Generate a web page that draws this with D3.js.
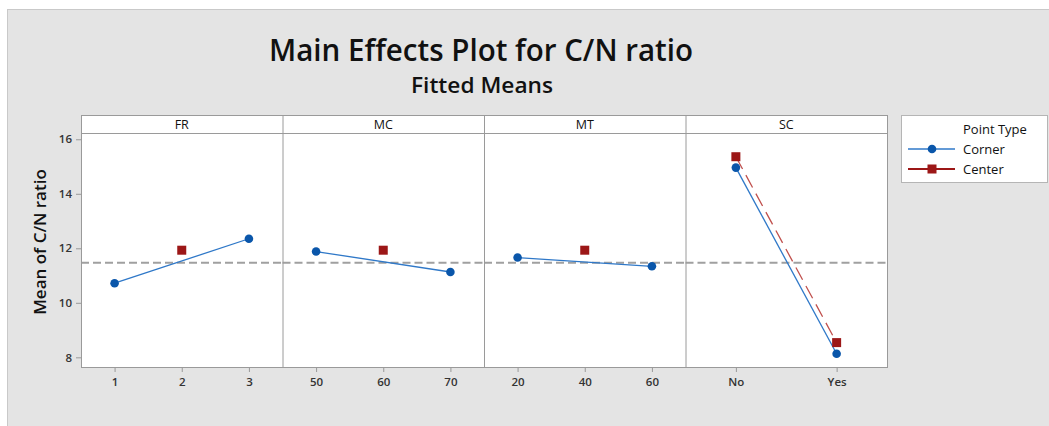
<!DOCTYPE html>
<html>
<head>
<meta charset="utf-8">
<script src="https://cdn.jsdelivr.net/npm/d3@7"></script>
<style>
  body { margin: 0; background: #fff; }
  svg { display: block; font-family: "Open Sans", "Noto Sans", sans-serif; }
</style>
</head>
<body>
<svg id="chart" width="1049" height="426"></svg>
<script>
// factors and their levels
var factors = ["FR", "MC", "MT", "SC"];
var levels = [["1", "2", "3"], ["50", "60", "70"], ["20", "40", "60"], ["No", "Yes"]];

// fitted means, corner points (one per level, null where there is none)
var cornerMeans = [[10.72, null, 12.35], [11.88, null, 11.13], [11.66, null, 11.34], [14.96, 8.13]];
// fitted means, center points
var centerMeans = [[null, 11.93, null], [null, 11.93, null], [null, 11.93, null], [15.36, 8.54]];

var grandMean = 11.47;
var yTicks = [8, 10, 12, 14, 16];

var svg = d3.select("#chart");

// grey background panel
svg.append("rect")
  .attr("x", 7.5).attr("y", 9.5)
  .attr("width", 1049).attr("height", 426)
  .attr("fill", "#e4e4e4")
  .attr("stroke", "#c9c9c9");

// titles
svg.append("text")
  .attr("x", 481).attr("y", 61)
  .attr("text-anchor", "middle")
  .attr("font-size", 30).attr("font-weight", 600)
  .attr("textLength", 424).attr("lengthAdjust", "spacingAndGlyphs")
  .attr("fill", "#111")
  .text("Main Effects Plot for C/N ratio");

svg.append("text")
  .attr("x", 482).attr("y", 93)
  .attr("text-anchor", "middle")
  .attr("font-size", 21).attr("font-weight", 600)
  .attr("textLength", 142).attr("lengthAdjust", "spacingAndGlyphs")
  .attr("fill", "#111")
  .text("Fitted Means");

var pLeft = 81, pTop = 115, stripH = 18, pBottom = 367, panelW = 201.5;
var plotTop = pTop + stripH;

var y = d3.scaleLinear()
  .domain([7.645, 16.23])
  .range([pBottom, plotTop]);

// y axis label
svg.append("text")
  .attr("transform", "translate(46,242) rotate(-90)")
  .attr("text-anchor", "middle")
  .attr("font-size", 17).attr("font-weight", 600)
  .attr("fill", "#111")
  .text("Mean of C/N ratio");

// plot background
svg.append("rect")
  .attr("x", pLeft).attr("y", pTop)
  .attr("width", panelW * factors.length).attr("height", pBottom - pTop)
  .attr("fill", "#fff");

// y axis
var yAxis = svg.append("g")
  .attr("transform", "translate(" + pLeft + ",0)")
  .call(d3.axisLeft(y).tickValues(yTicks).tickSize(5).tickPadding(4));
yAxis.select(".domain").remove();
yAxis.selectAll("line").attr("stroke", "#999");
yAxis.selectAll("text")
  .attr("font-size", 11.5).attr("font-weight", 600)
  .attr("fill", "#333")
  .attr("font-family", "\"Open Sans\", sans-serif");

var lineGen = d3.line()
  .x(function(d) { return d.x; })
  .y(function(d) { return y(d.v); });

factors.forEach(function(f, i) {
  var x0 = pLeft + i * panelW;
  var x = d3.scalePoint()
    .domain(levels[i])
    .range([x0, x0 + panelW])
    .padding(0.5);

  var g = svg.append("g");

  // x axis
  var xAxis = g.append("g")
    .attr("transform", "translate(0," + pBottom + ")")
    .call(d3.axisBottom(x).tickSize(5).tickPadding(6));
  xAxis.select(".domain").remove();
  xAxis.selectAll("line").attr("stroke", "#999");
  xAxis.selectAll("text")
    .attr("font-size", 11.5).attr("font-weight", 600)
    .attr("fill", "#333")
    .attr("font-family", "\"Open Sans\", sans-serif");

  // strip label
  g.append("text")
    .attr("x", x0 + panelW / 2).attr("y", pTop + 14)
    .attr("text-anchor", "middle")
    .attr("font-size", 12.5)
    .attr("fill", "#111")
    .text(f);

  // grand mean reference line
  g.append("line")
    .attr("x1", x0).attr("x2", x0 + panelW)
    .attr("y1", y(grandMean)).attr("y2", y(grandMean))
    .attr("stroke", "#a0a0a0").attr("stroke-width", 2)
    .attr("stroke-dasharray", "8,4");

  var corner = levels[i].map(function(l, j) { return { x: x(l), v: cornerMeans[i][j] }; })
    .filter(function(d) { return d.v != null; });
  var center = levels[i].map(function(l, j) { return { x: x(l), v: centerMeans[i][j] }; })
    .filter(function(d) { return d.v != null; });

  if (center.length > 1) {
    g.append("path")
      .attr("d", lineGen(center))
      .attr("fill", "none")
      .attr("stroke", "#c0504d").attr("stroke-width", 1.3)
      .attr("stroke-dasharray", "14,7");
  }
  g.append("path")
    .attr("d", lineGen(corner))
    .attr("fill", "none")
    .attr("stroke", "#2f78c8").attr("stroke-width", 1.3);

  g.selectAll("rect.center").data(center).enter().append("rect")
    .attr("class", "center")
    .attr("x", function(d) { return d.x - 4.5; })
    .attr("y", function(d) { return y(d.v) - 4.5; })
    .attr("width", 9).attr("height", 9)
    .attr("fill", "#9c1717");

  g.selectAll("circle").data(corner).enter().append("circle")
    .attr("cx", function(d) { return d.x; })
    .attr("cy", function(d) { return y(d.v); })
    .attr("r", 4.3)
    .attr("fill", "#0a56aa");
});

// frame lines
var frame = svg.append("g").attr("stroke", "#9a9a9a").attr("fill", "none");
frame.append("rect")
  .attr("x", pLeft + 0.5).attr("y", pTop + 0.5)
  .attr("width", panelW * factors.length).attr("height", pBottom - pTop);
frame.append("line")
  .attr("x1", pLeft).attr("x2", pLeft + panelW * factors.length)
  .attr("y1", plotTop + 0.5).attr("y2", plotTop + 0.5);
d3.range(1, factors.length).forEach(function(i) {
  frame.append("line")
    .attr("x1", pLeft + i * panelW + 0.5).attr("x2", pLeft + i * panelW + 0.5)
    .attr("y1", pTop).attr("y2", pBottom);
});

// legend
var lg = svg.append("g").attr("transform", "translate(901,115)");
lg.append("rect")
  .attr("x", 0.5).attr("y", 0.5)
  .attr("width", 146).attr("height", 67)
  .attr("fill", "#fff").attr("stroke", "#b5b5b5");
lg.append("text")
  .attr("x", 62).attr("y", 19)
  .attr("font-size", 13).attr("font-weight", 500)
  .attr("fill", "#111")
  .text("Point Type");

var legendItems = ["Corner", "Center"];
legendItems.forEach(function(name, k) {
  var yy = 34 + k * 20;
  lg.append("line")
    .attr("x1", 7).attr("x2", 54)
    .attr("y1", yy).attr("y2", yy)
    .attr("stroke", k === 0 ? "#2f78c8" : "#9c1717")
    .attr("stroke-width", k === 0 ? 1.3 : 2);
  if (k === 0) {
    lg.append("circle").attr("cx", 31).attr("cy", yy).attr("r", 4.3).attr("fill", "#0a56aa");
  } else {
    lg.append("rect").attr("x", 26.5).attr("y", yy - 4.5).attr("width", 9).attr("height", 9).attr("fill", "#9c1717");
  }
  lg.append("text")
    .attr("x", 62).attr("y", yy + 5)
    .attr("font-size", 13).attr("font-weight", 500)
    .attr("fill", "#111")
    .text(name);
});
</script>
</body>
</html>
